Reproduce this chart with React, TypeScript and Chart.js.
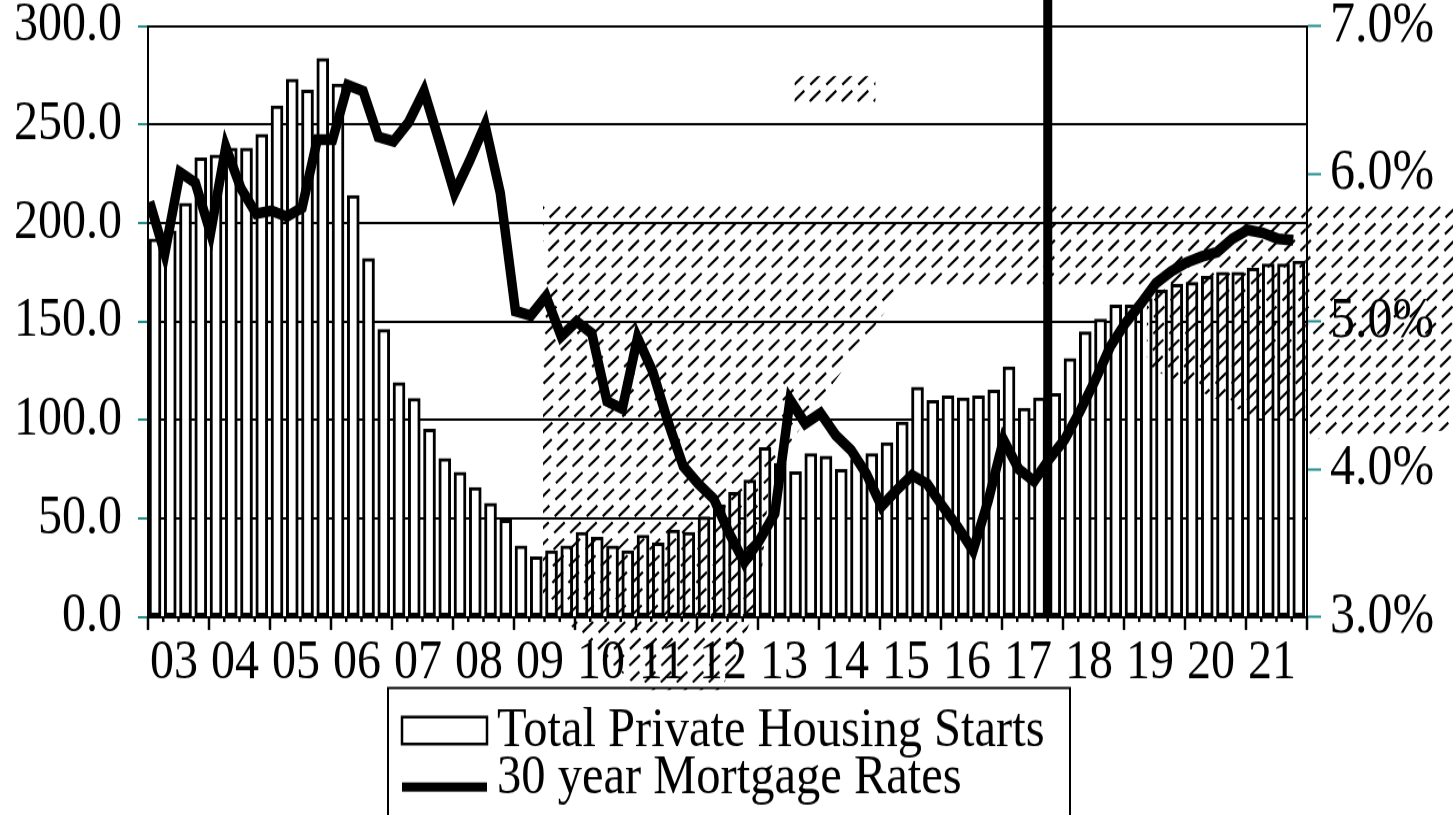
import React, { useEffect, useRef } from 'react';
import { Chart, registerables } from 'chart.js';

Chart.register(...registerables);

// ---------------- DATA ----------------
const yearLabels = ['03', '04', '05', '06', '07', '08', '09', '10', '11', '12', '13', '14', '15', '16', '17', '18', '19', '20', '21'];

// Total private housing starts, quarterly 2003Q1 .. 2021Q4 (left axis)
const housingStarts = [
  192, 196, 210, 233,
  234.5, 238, 238, 245,
  259.5, 273, 267.5, 283.6,
  270.5, 214, 182, 146,
  119, 111, 95.3, 80.5,
  73.5, 65.8, 57.7, 49.2,
  36.2, 30.6, 33.7, 36.2,
  43, 40.5, 36.2, 33.7,
  41.6, 37.6, 44.2, 43,
  50.8, 57, 63.3, 69.5,
  86, 78, 73.8, 83,
  81.7, 75, 80, 83,
  88.5, 99, 116.6, 110,
  112.3, 111.3, 112.3, 115.2,
  127, 106, 111.3, 113.5,
  131.3, 144.8, 151.3, 158.4,
  158.4, 161.8, 166, 168.9,
  169.9, 173, 175, 175,
  177, 179.2, 179.2, 180.7,
];

// 30 year mortgage rates (%), quarterly (right axis)
const mortgageRates = [
  5.81, 5.46, 6.01, 5.94,
  5.6, 6.18, 5.9, 5.73,
  5.75, 5.71, 5.77, 6.23,
  6.23, 6.6, 6.56, 6.25,
  6.22, 6.35, 6.56, 6.22,
  5.87, 6.09, 6.33, 5.87,
  5.07, 5.04, 5.17, 4.9,
  5.0, 4.92, 4.46, 4.41,
  4.89, 4.66, 4.32, 4.02,
  3.9, 3.8, 3.57, 3.37,
  3.52, 3.7, 4.47, 4.31,
  4.38, 4.23, 4.13, 3.97,
  3.75, 3.86, 3.96, 3.9,
  3.75, 3.61, 3.45, 3.79,
  4.2, 4.0, 3.92, 4.07,
  4.2, 4.39, 4.6, 4.83,
  4.99, 5.12, 5.26, 5.34,
  5.4, 5.44, 5.47, 5.56,
  5.62, 5.6, 5.56, 5.55,
];

const leftTickValues = [0, 50, 100, 150, 200, 250, 300];
const rightTickValues = [3, 4, 5, 6, 7];

// quarter index where the forecast divider is drawn (2017 Q4)
const dividerIndex = 59;

// shaded (hatched) areas, in [quarter index, left-axis value]
const hatchRegions: [number, number][][] = [
  [[25.9, 209], [75.9, 209], [75.9, 168.5], [49.6, 168.5], [40.8, 74.6], [40.1, 8.6], [37.6, -37], [32.3, -37], [25.9, 8.6]],
  [[65.5, 168.5], [75.9, 168.5], [75.9, 100], [73.0, 100], [65.5, 127]],
  [[75.9, 209], [85.7, 209], [85.7, 95], [75.9, 90]],
  [[42.4, 274.6], [47.7, 274.6], [47.7, 261.4], [42.4, 261.4]],
];

// ---------------- LAYOUT ----------------
const W = 1453;
const H = 709;
const S = 815 / H; // vertical stretch applied by CSS
const FONT = "'Liberation Serif', 'Times New Roman', serif";
const TEAL = '#1f8c8c';
const BAR_OFF = 0.46;
const LINE_OFF = 0.1;
const LABEL_OFF = 1.7;

export default function App() {
  const ref = useRef<HTMLCanvasElement>(null);

  useEffect(() => {
    document.body.style.margin = '0';
    const canvas = ref.current!;
    const ctx = canvas.getContext('2d')!;

    const overlay = {
      id: 'overlay',
      afterDatasetsDraw(chart: any) {
        const c = chart.ctx as CanvasRenderingContext2D;
        const xs = chart.scales.x;
        const ys = chart.scales.y;
        const area = chart.chartArea;

        // hatched areas
        const slope = 1.0 / S;
        hatchRegions.forEach((reg) => {
          c.save();
          c.beginPath();
          reg.forEach(([k, v], i) => {
            const px = xs.getPixelForValue(k);
            const py = ys.getPixelForValue(v);
            if (i === 0) c.moveTo(px, py);
            else c.lineTo(px, py);
          });
          c.closePath();
          c.clip();
          c.strokeStyle = '#000';
          c.lineWidth = 2.2;
          c.setLineDash([14, 8]);
          const run = H / slope;
          for (let x0 = -1200; x0 < W + 20; x0 += 16) {
            c.beginPath();
            c.moveTo(x0, H);
            c.lineTo(x0 + run, 0);
            c.stroke();
          }
          c.restore();
        });

        // divider line
        const dx = xs.getPixelForValue(dividerIndex);
        c.save();
        c.fillStyle = '#000';
        c.fillRect(dx - 4.5, 0, 9, area.bottom);
        c.restore();

        // x tick marks
        c.save();
        c.strokeStyle = '#000';
        c.lineWidth = 2.5;
        for (let k = 0; k <= housingStarts.length; k++) {
          const px = xs.getPixelForValue(k);
          const len = (k % 4 === 0 ? 13 : 5) / S;
          c.beginPath();
          c.moveTo(px, area.bottom);
          c.lineTo(px, area.bottom + len);
          c.stroke();
        }
        c.restore();
      },
      afterDraw(chart: any) {
        const c = chart.ctx as CanvasRenderingContext2D;
        c.save();
        // legend box
        c.strokeStyle = '#000';
        c.lineWidth = 2;
        c.strokeRect(388, 688 / S, 1070 - 388, H + 20 - 688 / S);
        // bar swatch
        c.fillStyle = '#fff';
        c.fillRect(402, 717 / S, 85, 27 / S);
        c.lineWidth = 2.5;
        c.strokeRect(402, 717 / S, 85, 27 / S);
        // line swatch
        c.fillStyle = '#000';
        c.fillRect(402, 787 / S - 4, 85, 8);
        // texts
        c.fillStyle = '#000';
        c.font = `48.5px ${FONT}`;
        c.textBaseline = 'alphabetic';
        c.textAlign = 'left';
        c.fillText('Total Private Housing Starts', 497, 746 / S);
        c.fillText('30 year Mortgage Rates', 497, 793 / S);
        c.restore();
      },
    };

    const chart = new Chart(ctx, {
      type: 'bar',
      data: {
        datasets: [
          {
            type: 'line',
            label: '30 year Mortgage Rates',
            data: mortgageRates.map((r, i) => ({ x: i + LINE_OFF, y: r })),
            yAxisID: 'y1',
            borderColor: '#000',
            backgroundColor: '#000',
            borderWidth: 9.5,
            pointRadius: 0,
            tension: 0,
            fill: false,
            borderJoinStyle: 'miter',
            order: 1,
          } as any,
          {
            type: 'bar',
            label: 'Total Private Housing Starts',
            data: housingStarts.map((v, i) => ({ x: i + BAR_OFF, y: v })),
            yAxisID: 'y',
            backgroundColor: '#fff',
            borderColor: '#000',
            borderWidth: 3,
            borderSkipped: false,
            barThickness: 12,
            order: 2,
          } as any,
        ],
      },
      options: {
        responsive: false,
        animation: false,
        devicePixelRatio: 1,
        layout: { padding: { top: 26 / S, left: 0, right: 0, bottom: 0 } },
        plugins: {
          legend: { display: false },
          tooltip: { enabled: false },
          title: { display: false },
        },
        scales: {
          x: {
            type: 'linear',
            min: 0,
            max: housingStarts.length,
            offset: false,
            grid: { display: false, offset: false },
            border: { display: true, color: '#000', width: 2 },
            afterBuildTicks: (s: any) => {
              s.ticks = yearLabels.map((_, i) => ({ value: i * 4 + LABEL_OFF }));
            },
            ticks: {
              autoSkip: false,
              maxRotation: 0,
              minRotation: 0,
              padding: 4,
              color: '#000',
              font: { family: FONT, size: 48 },
              callback: (_v: any, i: number) => yearLabels[i],
            },
            afterFit: (s: any) => {
              s.height = H - 617 / S;
              s.paddingLeft = 0;
              s.paddingRight = 0;
            },
          } as any,
          y: {
            position: 'left',
            min: 0,
            max: 300,
            afterBuildTicks: (s: any) => {
              s.ticks = leftTickValues.map((v) => ({ value: v }));
            },
            ticks: {
              padding: 16,
              color: '#000',
              font: { family: FONT, size: 48 },
              callback: (v: any) => Number(v).toFixed(1),
            },
            grid: { color: '#000', lineWidth: 2, tickColor: TEAL, tickLength: 10, tickWidth: 2 },
            border: { display: true, color: '#000', width: 2 },
            afterFit: (s: any) => {
              s.width = 148;
              s.paddingTop = 0;
              s.paddingBottom = 0;
            },
          } as any,
          y1: {
            position: 'right',
            min: 3,
            max: 7,
            afterBuildTicks: (s: any) => {
              s.ticks = rightTickValues.map((v) => ({ value: v }));
            },
            ticks: {
              padding: 9,
              color: '#000',
              font: { family: FONT, size: 50 },
              callback: (v: any) => Number(v).toFixed(1) + '%',
            },
            grid: { drawOnChartArea: false, tickColor: TEAL, tickLength: 14, tickWidth: 2 },
            border: { display: true, color: '#000', width: 2 },
            afterFit: (s: any) => {
              s.width = W - 1307;
              s.paddingTop = 0;
              s.paddingBottom = 0;
            },
          } as any,
        },
      },
      plugins: [overlay],
    });

    return () => chart.destroy();
  }, []);

  return (
    <canvas
      ref={ref}
      width={W}
      height={H}
      style={{ display: 'block', width: `${W}px`, height: '815px' }}
    />
  );
}
